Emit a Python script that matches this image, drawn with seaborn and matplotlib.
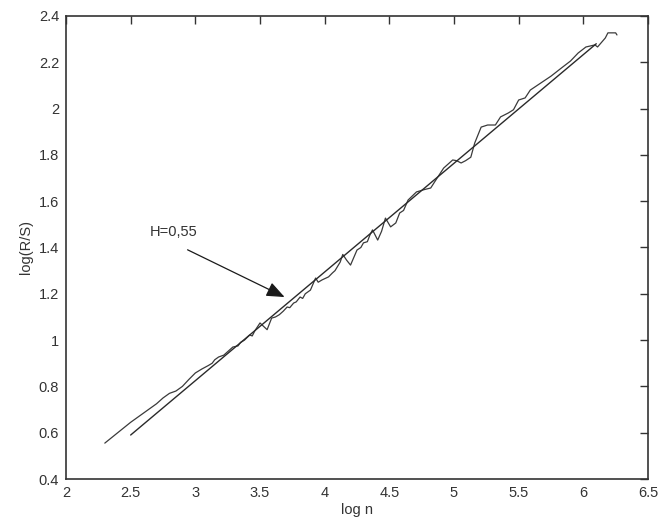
import numpy as np
import pandas as pd
import seaborn as sns
import matplotlib.pyplot as plt

log_n = [2.30, 2.40, 2.50, 2.60, 2.70, 2.75, 2.80, 2.85, 2.90, 2.95,
         3.00, 3.05, 3.10, 3.13, 3.15, 3.18, 3.22, 3.25, 3.29, 3.33,
         3.35, 3.38, 3.42, 3.44, 3.46, 3.50, 3.555, 3.59, 3.62, 3.65,
         3.68, 3.71, 3.73, 3.76, 3.78, 3.81, 3.83, 3.85, 3.89, 3.93,
         3.95, 3.98, 4.03, 4.06, 4.08, 4.12, 4.14, 4.17, 4.20, 4.25,
         4.28, 4.30, 4.33, 4.35, 4.37, 4.41, 4.44, 4.47, 4.51, 4.55,
         4.58, 4.61, 4.645, 4.71, 4.77, 4.82, 4.85, 4.92, 4.99, 5.02,
         5.055, 5.09, 5.13, 5.16, 5.21, 5.26, 5.32, 5.36, 5.42, 5.46,
         5.50, 5.55, 5.59, 5.67, 5.75, 5.83, 5.90, 5.96, 6.02, 6.09,
         6.11, 6.17, 6.19, 6.25, 6.26]
log_rs = [0.555, 0.60, 0.645, 0.685, 0.725, 0.75, 0.77, 0.78, 0.80, 0.83,
          0.858, 0.875, 0.89, 0.90, 0.915, 0.927, 0.935, 0.95, 0.97, 0.975,
          0.99, 1.00, 1.022, 1.018, 1.04, 1.074, 1.045, 1.095, 1.10, 1.11,
          1.125, 1.143, 1.14, 1.16, 1.165, 1.186, 1.18, 1.20, 1.216, 1.268,
          1.25, 1.26, 1.273, 1.29, 1.30, 1.337, 1.37, 1.345, 1.324, 1.389,
          1.40, 1.42, 1.425, 1.454, 1.476, 1.432, 1.47, 1.527, 1.489, 1.506,
          1.549, 1.56, 1.605, 1.64, 1.65, 1.657, 1.683, 1.743, 1.778, 1.775,
          1.765, 1.775, 1.79, 1.851, 1.92, 1.929, 1.929, 1.964, 1.981, 1.995,
          2.037, 2.046, 2.08, 2.11, 2.14, 2.175, 2.205, 2.24, 2.266, 2.275,
          2.266, 2.305, 2.327, 2.327, 2.318]

# fitted line end points
fit_x = [2.50, 6.10]
fit_y = [0.59, 2.28]

label = "H=0,55"

sns.set_style("white")
plt.rcParams['font.family'] = ['Liberation Sans Narrow', 'Liberation Sans', 'DejaVu Sans']

fig = plt.figure(figsize=(6.58, 5.25), dpi=100)
ax = fig.add_axes([0.1003, 0.0876, 0.8845, 0.882])

emp = pd.DataFrame({"log n": log_n, "log(R/S)": log_rs})
fit = pd.DataFrame({"log n": fit_x, "log(R/S)": fit_y})
sns.lineplot(data=emp, x="log n", y="log(R/S)", sort=False, color="#3a3a3a", lw=0.9, ax=ax)
sns.lineplot(data=fit, x="log n", y="log(R/S)", sort=False, color="#2a2a2a", lw=1.0, ax=ax)

ax.text(2.65, 1.467, label, fontsize=10.5, color="#333333", va="center")
ax.annotate("", xy=(3.69, 1.186), xytext=(2.94, 1.39),
            arrowprops=dict(arrowstyle="-|>,head_length=1.1,head_width=0.45",
                            color="#1a1a1a", lw=0.9, shrinkA=0, shrinkB=0))

ax.set_xlim(2, 6.5)
ax.set_ylim(0.4, 2.4)
ax.set_xticks(np.arange(2, 6.51, 0.5))
ax.set_yticks(np.arange(0.4, 2.41, 0.2))
ax.set_xticklabels(["2", "2.5", "3", "3.5", "4", "4.5", "5", "5.5", "6", "6.5"])
ax.set_yticklabels(["0.4", "0.6", "0.8", "1", "1.2", "1.4", "1.6", "1.8", "2", "2.2", "2.4"])
ax.tick_params(direction="in", length=6, width=1, color="#333333",
               top=True, right=True, labelsize=10.5, labelcolor="#333333", pad=5)
for s in ax.spines.values():
    s.set_color("#333333")
    s.set_linewidth(1.2)
ax.set_xlabel("log n", fontsize=10.5, color="#333333", labelpad=2)
ax.set_ylabel("log(R/S)", fontsize=10.5, color="#333333", labelpad=4)

fig.savefig("out.png", dpi=100)
